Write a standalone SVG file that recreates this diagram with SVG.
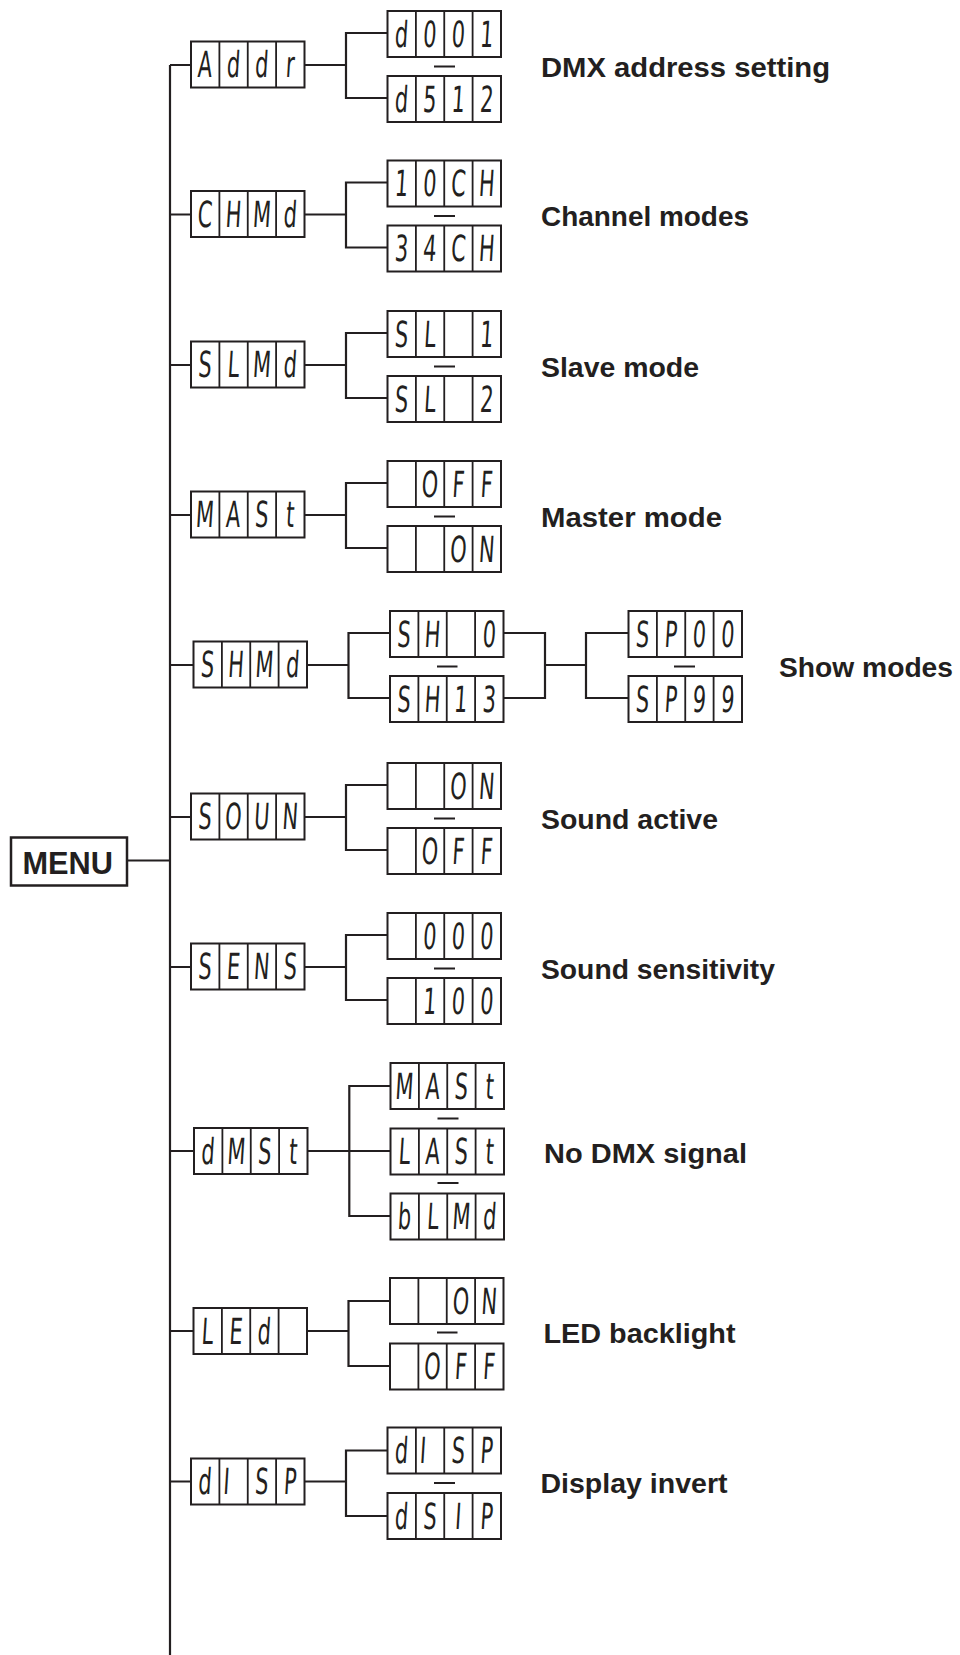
<svg xmlns="http://www.w3.org/2000/svg" xmlns:xlink="http://www.w3.org/1999/xlink" width="960" height="1655" viewBox="0 0 960 1655">
<style>
.bx{fill:#fff;stroke:#231f20;stroke-width:2}
.dv{stroke:#231f20;stroke-width:1.8}
.seg{font-family:"DejaVu Sans",sans-serif;font-size:36px;fill:#231f20;text-anchor:middle}
.lbl{font-family:"Liberation Sans",Arial,sans-serif;font-weight:bold;font-size:28px;fill:#231f20}
.con{fill:none;stroke:#231f20;stroke-width:2.2}
.dash{stroke:#231f20;stroke-width:2}
</style>
<defs>
<g id="cells4">
<rect class="bx" x="0" y="0" width="113.5" height="46"/>
<path class="dv" d="M28.4,0V46M56.75,0V46M85.1,0V46"/>
</g>
</defs>
<rect width="960" height="1655" fill="#fff"/>

<g id="connectors" class="con">
<path d="M170,65V1655"/>
<path d="M127,860.5H170"/>
<!-- row1 -->
<path d="M170,65H191M304.5,65H346M387.5,33H346V98H387.5"/>
<!-- row2 -->
<path d="M170,214.5H191M304.5,214.5H346M387.5,182.5H346V247.5H387.5"/>
<!-- row3 -->
<path d="M170,365H191M304.5,365H346M387.5,333H346V398H387.5"/>
<!-- row4 -->
<path d="M170,515H191M304.5,515H346M387.5,483H346V548H387.5"/>
<!-- row5 -->
<path d="M170,665H193.5M307,665H348.5M390,633H348.5V698H390"/>
<path d="M503.5,633H545V698H503.5M545,665H586M628.5,633H586V698H628.5"/>
<!-- row6 -->
<path d="M170,817H191M304.5,817H346M387.5,785H346V850H387.5"/>
<!-- row7 -->
<path d="M170,967H191M304.5,967H346M387.5,935H346V1000H387.5"/>
<!-- row8 -->
<path d="M170,1151H194M308,1151H390.5M390.5,1086H349.3V1216H390.5"/>
<!-- row9 -->
<path d="M170,1331H193.5M307,1331H348.5M390,1301H348.5V1366H390"/>
<!-- row10 -->
<path d="M170,1481.5H191M304.5,1481.5H346M387.5,1450.5H346V1516H387.5"/>
</g>

<g id="separators" class="dash">
<path d="M434,66.5H455M434,216H455M434,366.5H455M434,516.5H455M437,666.5H457.5M674,666.5H695M434,818.5H455M434,968.5H455M437.5,1118.5H458.5M437.5,1183H458.5M437,1332.5H457.5M434,1483H455"/>
</g>

<g id="menu">
<rect x="11" y="837.5" width="116" height="48" fill="#fff" stroke="#231f20" stroke-width="2.5"/>
<text x="22.5" y="873.5" class="lbl" style="font-size:30.5px" textLength="90.5" lengthAdjust="spacingAndGlyphs">MENU</text>
</g>

<!-- Row 1 -->
<g id="addr"><use xlink:href="#cells4" x="191" y="41.5"/><text class="seg" transform="translate(191,77) scale(0.58,1) skewX(-6)" x="23 72 121 170">Addr</text></g>
<g id="d001"><use xlink:href="#cells4" x="387.5" y="11"/><text class="seg" transform="translate(387.5,46.5) scale(0.58,1) skewX(-6)" x="23 72 121 170">d001</text></g>
<g id="d512"><use xlink:href="#cells4" x="387.5" y="76"/><text class="seg" transform="translate(387.5,111.5) scale(0.58,1) skewX(-6)" x="23 72 121 170">d512</text></g>
<g id="lbl-addr"><text class="lbl" x="541" y="76.5" textLength="289" lengthAdjust="spacingAndGlyphs">DMX address setting</text></g>

<!-- Row 2 -->
<g id="chmd"><use xlink:href="#cells4" x="191" y="191"/><text class="seg" transform="translate(191,226.5) scale(0.58,1) skewX(-6)" x="23 72 121 170">CHMd</text></g>
<g id="ch10"><use xlink:href="#cells4" x="387.5" y="160.5"/><text class="seg" transform="translate(387.5,196) scale(0.58,1) skewX(-6)" x="23 72 121 170">10CH</text></g>
<g id="ch34"><use xlink:href="#cells4" x="387.5" y="225.5"/><text class="seg" transform="translate(387.5,261) scale(0.58,1) skewX(-6)" x="23 72 121 170">34CH</text></g>
<g id="lbl-chmd"><text class="lbl" x="541" y="226" textLength="208" lengthAdjust="spacingAndGlyphs">Channel modes</text></g>

<!-- Row 3 -->
<g id="slmd"><use xlink:href="#cells4" x="191" y="341.5"/><text class="seg" transform="translate(191,377) scale(0.58,1) skewX(-6)" x="23 72 121 170">SLMd</text></g>
<g id="sl1"><use xlink:href="#cells4" x="387.5" y="311"/><text class="seg" transform="translate(387.5,346.5) scale(0.58,1) skewX(-6)" x="23 72 170">SL1</text></g>
<g id="sl2"><use xlink:href="#cells4" x="387.5" y="376"/><text class="seg" transform="translate(387.5,411.5) scale(0.58,1) skewX(-6)" x="23 72 170">SL2</text></g>
<g id="lbl-slmd"><text class="lbl" x="541" y="376.5" textLength="158" lengthAdjust="spacingAndGlyphs">Slave mode</text></g>

<!-- Row 4 -->
<g id="mast"><use xlink:href="#cells4" x="191" y="491.5"/><text class="seg" transform="translate(191,527) scale(0.58,1) skewX(-6)" x="23 72 121 170">MASt</text></g>
<g id="mast-off"><use xlink:href="#cells4" x="387.5" y="461"/><text class="seg" transform="translate(387.5,496.5) scale(0.58,1) skewX(-6)" x="72 121 170">OFF</text></g>
<g id="mast-on"><use xlink:href="#cells4" x="387.5" y="526"/><text class="seg" transform="translate(387.5,561.5) scale(0.58,1) skewX(-6)" x="121 170">ON</text></g>
<g id="lbl-mast"><text class="lbl" x="541" y="526.5" textLength="181" lengthAdjust="spacingAndGlyphs">Master mode</text></g>

<!-- Row 5 -->
<g id="shmd"><use xlink:href="#cells4" x="193.5" y="641.5"/><text class="seg" transform="translate(193.5,677) scale(0.58,1) skewX(-6)" x="23 72 121 170">SHMd</text></g>
<g id="sh0"><use xlink:href="#cells4" x="390" y="611"/><text class="seg" transform="translate(390,646.5) scale(0.58,1) skewX(-6)" x="23 72 170">SH0</text></g>
<g id="sh13"><use xlink:href="#cells4" x="390" y="676"/><text class="seg" transform="translate(390,711.5) scale(0.58,1) skewX(-6)" x="23 72 121 170">SH13</text></g>
<g id="sp00"><use xlink:href="#cells4" x="628.5" y="611"/><text class="seg" transform="translate(628.5,646.5) scale(0.58,1) skewX(-6)" x="23 72 121 170">SP00</text></g>
<g id="sp99"><use xlink:href="#cells4" x="628.5" y="676"/><text class="seg" transform="translate(628.5,711.5) scale(0.58,1) skewX(-6)" x="23 72 121 170">SP99</text></g>
<g id="lbl-shmd"><text class="lbl" x="779" y="676.5" textLength="174" lengthAdjust="spacingAndGlyphs">Show modes</text></g>

<!-- Row 6 -->
<g id="soun"><use xlink:href="#cells4" x="191" y="793.5"/><text class="seg" transform="translate(191,829) scale(0.58,1) skewX(-6)" x="23 72 121 170">SOUN</text></g>
<g id="soun-on"><use xlink:href="#cells4" x="387.5" y="763"/><text class="seg" transform="translate(387.5,798.5) scale(0.58,1) skewX(-6)" x="121 170">ON</text></g>
<g id="soun-off"><use xlink:href="#cells4" x="387.5" y="828"/><text class="seg" transform="translate(387.5,863.5) scale(0.58,1) skewX(-6)" x="72 121 170">OFF</text></g>
<g id="lbl-soun"><text class="lbl" x="541" y="828.5" textLength="177" lengthAdjust="spacingAndGlyphs">Sound active</text></g>

<!-- Row 7 -->
<g id="sens"><use xlink:href="#cells4" x="191" y="943.5"/><text class="seg" transform="translate(191,979) scale(0.58,1) skewX(-6)" x="23 72 121 170">SENS</text></g>
<g id="sens-000"><use xlink:href="#cells4" x="387.5" y="913"/><text class="seg" transform="translate(387.5,948.5) scale(0.58,1) skewX(-6)" x="72 121 170">000</text></g>
<g id="sens-100"><use xlink:href="#cells4" x="387.5" y="978"/><text class="seg" transform="translate(387.5,1013.5) scale(0.58,1) skewX(-6)" x="72 121 170">100</text></g>
<g id="lbl-sens"><text class="lbl" x="541" y="978.5" textLength="234" lengthAdjust="spacingAndGlyphs">Sound sensitivity</text></g>

<!-- Row 8 -->
<g id="dmst"><use xlink:href="#cells4" x="194" y="1128"/><text class="seg" transform="translate(194,1163.5) scale(0.58,1) skewX(-6)" x="23 72 121 170">dMSt</text></g>
<g id="dmst-mast"><use xlink:href="#cells4" x="390.5" y="1063"/><text class="seg" transform="translate(390.5,1098.5) scale(0.58,1) skewX(-6)" x="23 72 121 170">MASt</text></g>
<g id="dmst-last"><use xlink:href="#cells4" x="390.5" y="1128.5"/><text class="seg" transform="translate(390.5,1164) scale(0.58,1) skewX(-6)" x="23 72 121 170">LASt</text></g>
<g id="dmst-blmd"><use xlink:href="#cells4" x="390.5" y="1193.5"/><text class="seg" transform="translate(390.5,1229) scale(0.58,1) skewX(-6)" x="23 72 121 170">bLMd</text></g>
<g id="lbl-dmst"><text class="lbl" x="544" y="1162.5" textLength="203" lengthAdjust="spacingAndGlyphs">No DMX signal</text></g>

<!-- Row 9 -->
<g id="led"><use xlink:href="#cells4" x="193.5" y="1308"/><text class="seg" transform="translate(193.5,1343.5) scale(0.58,1) skewX(-6)" x="23 72 121">LEd</text></g>
<g id="led-on"><use xlink:href="#cells4" x="390" y="1278"/><text class="seg" transform="translate(390,1313.5) scale(0.58,1) skewX(-6)" x="121 170">ON</text></g>
<g id="led-off"><use xlink:href="#cells4" x="390" y="1343.5"/><text class="seg" transform="translate(390,1379) scale(0.58,1) skewX(-6)" x="72 121 170">OFF</text></g>
<g id="lbl-led"><text class="lbl" x="543.5" y="1342.5" textLength="192" lengthAdjust="spacingAndGlyphs">LED backlight</text></g>

<!-- Row 10 -->
<g id="disp"><use xlink:href="#cells4" x="191" y="1458.5"/><text class="seg" transform="translate(191,1494) scale(0.58,1) skewX(-6)" x="23 60 121 170">dISP</text></g>
<g id="disp-a"><use xlink:href="#cells4" x="387.5" y="1427.5"/><text class="seg" transform="translate(387.5,1463) scale(0.58,1) skewX(-6)" x="23 60 121 170">dISP</text></g>
<g id="disp-b"><use xlink:href="#cells4" x="387.5" y="1493"/><text class="seg" transform="translate(387.5,1528.5) scale(0.58,1) skewX(-6)" x="23 72 121 170">dSIP</text></g>
<g id="lbl-disp"><text class="lbl" x="540.5" y="1493" textLength="187" lengthAdjust="spacingAndGlyphs">Display invert</text></g>
</svg>
